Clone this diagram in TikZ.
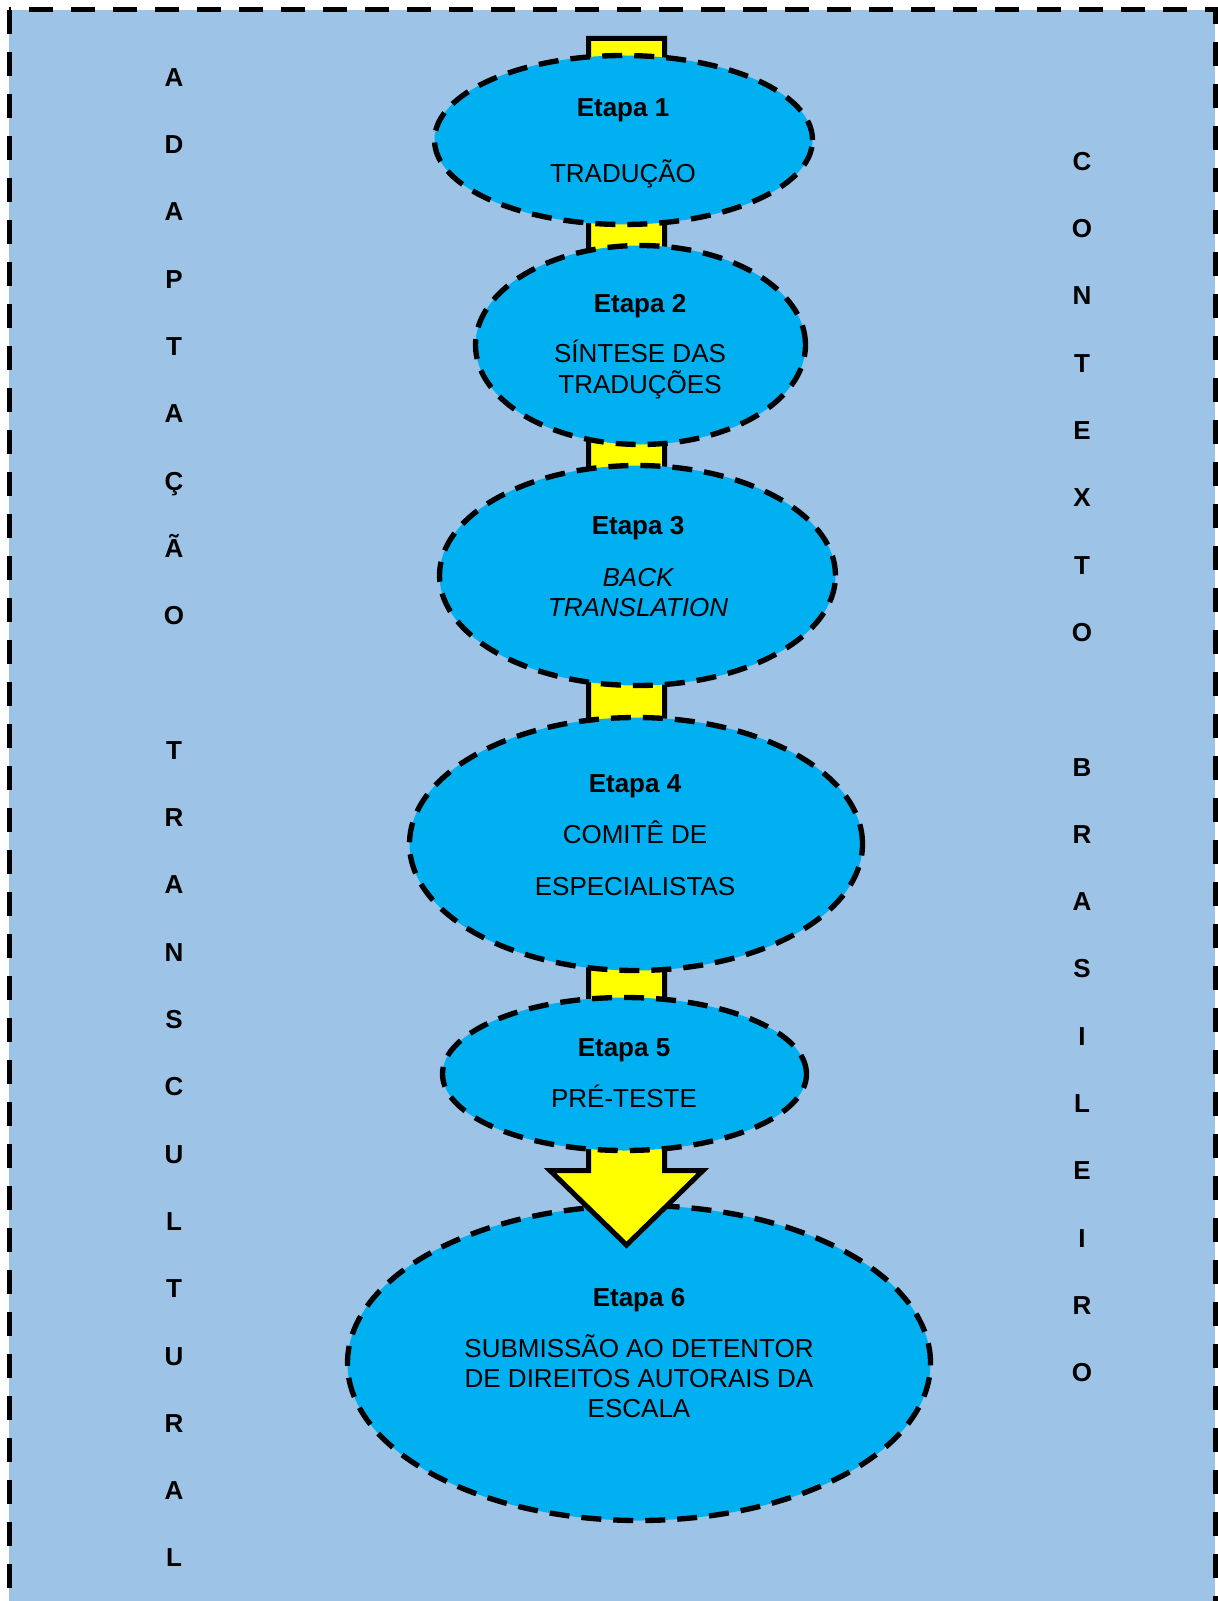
\documentclass[tikz,border=0pt]{standalone}
\usepackage{fontspec}
\setmainfont{Liberation Sans}
\usetikzlibrary{shapes.geometric}
\definecolor{bgblue}{HTML}{9DC3E6}
\definecolor{ellblue}{HTML}{00B0F0}
\definecolor{arrowyellow}{HTML}{FFFF00}
\begin{document}
\begin{tikzpicture}[x=0.75pt,y=-0.75pt,
  stage/.style 2 args={ellipse, draw=black, fill=ellblue, line width=4pt,
     dash pattern=on 15pt off 9pt, inner sep=0pt, outer sep=0pt,
     minimum width=#1*0.75pt, minimum height=#2*0.75pt},
  txt/.style={anchor=base, inner sep=0pt, font=\fontsize{19.5pt}{22pt}\selectfont},
  btxt/.style={txt, font=\fontsize{19.5pt}{22pt}\selectfont\bfseries},
  itxt/.style={txt, font=\fontsize{19.5pt}{22pt}\selectfont\itshape},
  side/.style={anchor=base, inner sep=0pt, font=\fontsize{19.5pt}{22pt}\selectfont\bfseries},
  blockarrow/.style={draw=black, fill=arrowyellow, line width=3.75pt, line join=miter}
]
\useasboundingbox (0,0) rectangle (1217,1601);
% background frame
\draw[fill=bgblue, draw=black, line width=3.75pt, dash pattern=on 18pt off 13.5pt]
  (9,10) rectangle (1215,1640);

% side letters
\foreach \l [count=\i from 0] in {A,D,A,P,T,A,Ç,Ã,O} {
  \node[side] (la\i) at (174, 77+67.3*\i+9.3) {\l};
}
\foreach \l [count=\i from 10] in {T,R,A,N,S,C,U,L,T,U,R,A,L} {
  \node[side] (lb\i) at (174, 77+67.3*\i+9.3) {\l};
}
\foreach \l [count=\i from 0] in {C,O,N,T,E,X,T,O} {
  \node[side] (ra\i) at (1082, 161+67.3*\i+9.3) {\l};
}
\foreach \l [count=\i from 9] in {B,R,A,S,I,L,E,I,R,O} {
  \node[side] (rb\i) at (1082, 161+67.3*\i+9.3) {\l};
}

% last stage (under the arrow head)
\node[stage={583}{315}] (e6) at (639,1363) {};

% block arrow
\coordinate (atl) at (588.5,38.5);
\coordinate (atr) at (664.5,38.5);
\coordinate (asr) at (664.5,1170.5);
\coordinate (ahr) at (703,1170.5);
\coordinate (atip) at (626.5,1245);
\coordinate (ahl) at (550,1170.5);
\coordinate (asl) at (588.5,1170.5);
\draw[blockarrow] (atl) -- (atr) -- (asr) -- (ahr) -- (atip) -- (ahl) -- (asl) -- cycle;

% stages 1-5
\node[stage={378}{169}] (e1) at (623.5,140) {};
\node[stage={330}{199}] (e2) at (640.5,345) {};
\node[stage={396}{220}] (e3) at (637.5,575.5) {};
\node[stage={453}{253}] (e4) at (636,844) {};
\node[stage={364}{153}] (e5) at (624.5,1074) {};

% texts
\node[btxt] (t1a) at (623,107+9.3) {Etapa 1};
\node[txt] (t1b) at (623,173+9.3) {TRADUÇÃO};

\node[btxt] (t2a) at (640,303+9.3) {Etapa 2};
\node[txt] (t2b) at (640,353+9.3) {SÍNTESE DAS};
\node[txt] (t2c) at (640,384+9.3) {TRADUÇÕES};

\node[btxt] (t3a) at (638,525+9.3) {Etapa 3};
\node[itxt] (t3b) at (638,577+9.3) {BACK};
\node[itxt] (t3c) at (638,607+9.3) {TRANSLATION};

\node[btxt] (t4a) at (635,783+9.3) {Etapa 4};
\node[txt] (t4b) at (635,834+9.3) {COMITÊ DE};
\node[txt] (t4c) at (635,886+9.3) {ESPECIALISTAS};

\node[btxt] (t5a) at (624,1047+9.3) {Etapa 5};
\node[txt] (t5b) at (624,1098+9.3) {PRÉ-TESTE};

\node[btxt] (t6a) at (639,1297+9.3) {Etapa 6};
\node[txt] (t6b) at (639,1348+9.3) {SUBMISSÃO AO DETENTOR};
\node[txt] (t6c) at (639,1378+9.3) {DE DIREITOS AUTORAIS DA};
\node[txt] (t6d) at (639,1408+9.3) {ESCALA};
\end{tikzpicture}
\end{document}
